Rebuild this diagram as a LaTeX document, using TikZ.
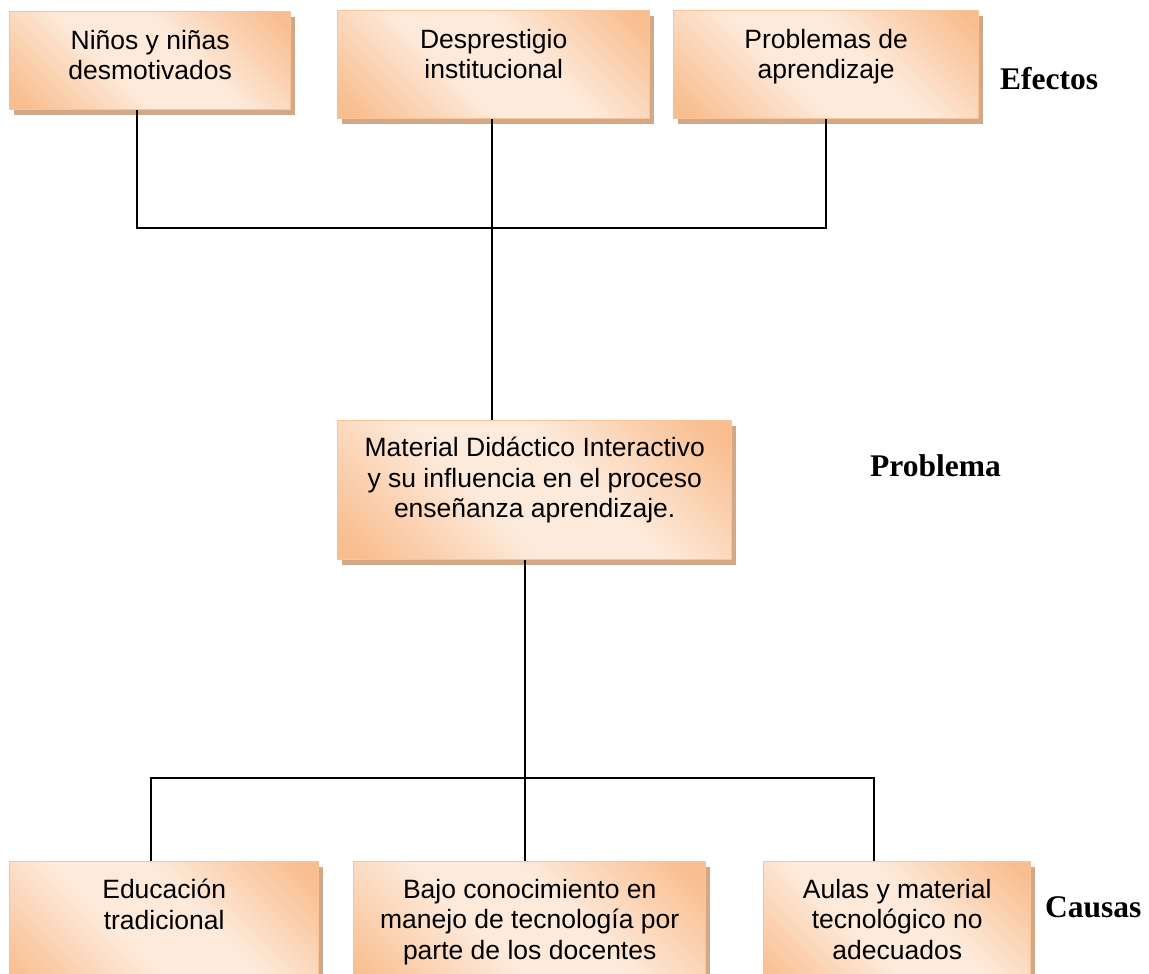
\documentclass[tikz,border=0pt]{standalone}
\usepackage{fontspec}
\setmainfont{Liberation Sans}
\newfontfamily\labelserif{Liberation Serif}
\usetikzlibrary{shadows}
\definecolor{borange}{RGB}{249,190,143}
\definecolor{blight}{RGB}{253,234,219}
\definecolor{bborder}{RGB}{250,196,152}
\definecolor{bshadow}{RGB}{210,168,134}
\pgfdeclarehorizontalshading{boxshade}{100bp}{color(0bp)=(borange); color(18bp)=(borange); color(42bp)=(blight); color(58bp)=(blight); color(82bp)=(borange); color(100bp)=(borange)}
\tikzset{
  box/.style={rectangle, anchor=north west, inner sep=0pt, draw=bborder, line width=1.4pt,
    shading=boxshade, shading angle=45,
    general shadow={shadow xshift=4pt, shadow yshift=-5pt, fill=bshadow}},
  txt/.style={font=\fontsize{26.5}{30.5}\selectfont, align=center, inner sep=0pt, anchor=north},
  lbl/.style={font=\labelserif\bfseries\fontsize{31.5}{34}\selectfont, inner sep=0pt, anchor=base west},
  conn/.style={draw=black, line width=1.8pt}
}
\begin{document}
\begin{tikzpicture}[x=1pt,y=-1pt]
\useasboundingbox[fill=white] (0,0) rectangle (1149,974);
% top boxes
\node[box, minimum width=281pt, minimum height=98pt] (t1) at (9,11) {};
\node[box, minimum width=312pt, minimum height=108pt] (t2) at (337,10) {};
\node[box, minimum width=305pt, minimum height=108pt] (t3) at (673,10) {};
% middle
\node[box, minimum width=394pt, minimum height=139pt] (m) at (337,420) {};
% bottom
\node[box, minimum width=309pt, minimum height=134pt] (b1) at (9,861) {};
\node[box, minimum width=352pt, minimum height=134pt] (b2) at (353,861) {};
\node[box, minimum width=267pt, minimum height=134pt] (b3) at (763,861) {};
% texts
\node[txt] (t1t) at ([yshift=-19pt]t1.north) {Niños y niñas\\desmotivados};
\node[txt] (t2t) at ([yshift=-19pt]t2.north) {Desprestigio\\institucional};
\node[txt] (t3t) at ([yshift=-19pt]t3.north) {Problemas de\\aprendizaje};
\node[txt] (mt) at ([yshift=-17pt]m.north) {Material Didáctico Interactivo\\y su influencia en el proceso\\enseñanza aprendizaje.};
\node[txt] (b1t) at ([yshift=-18pt]b1.north) {Educación\\tradicional};
\node[txt] (b2t) at ([yshift=-18pt]b2.north) {Bajo conocimiento en\\manejo de tecnología por\\parte de los docentes};
\node[txt] (b3t) at ([yshift=-18pt]b3.north) {Aulas y material\\tecnológico no\\adecuados};
% labels
\node[lbl] (lef) at (1000,89) {Efectos};
\node[lbl] (lpr) at (870,476) {Problema};
\node[lbl] (lca) at (1045,917) {Causas};
% connectors
\coordinate (jtop) at (492,228);
\coordinate (jbot) at (525,778);
\draw[conn] ([xshift=-13.5pt]t1.south) |- (jtop) -| (t3.south);
\draw[conn] (jtop |- t2.south) -- (jtop |- m.north);
\draw[conn] (jbot |- m.south) -- (jbot |- b2.north);
\draw[conn] ([xshift=-13.5pt]b1.north) |- (jbot) -| ([xshift=-23.5pt]b3.north);
\end{tikzpicture}
\end{document}
